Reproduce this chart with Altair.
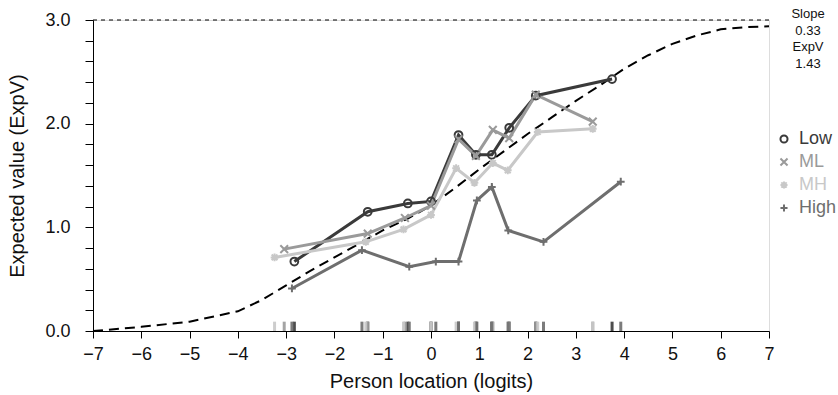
import altair as alt
import pandas as pd

# ---- data ----
groups = ["Low", "ML", "MH", "High"]
colors = ["#3a3a3a", "#9a9a9a", "#c8c8c8", "#6e6e6e"]

low_x = [-2.83, -1.31, -0.48, 0.00, 0.57, 0.93, 1.26, 1.62, 2.17, 3.75]
low_y = [0.67, 1.15, 1.23, 1.25, 1.89, 1.70, 1.70, 1.96, 2.27, 2.43]

ml_x = [-3.04, -1.31, -0.54, 0.00, 0.57, 0.93, 1.28, 1.62, 2.17, 3.35]
ml_y = [0.79, 0.94, 1.09, 1.21, 1.85, 1.69, 1.94, 1.86, 2.28, 2.02]

mh_x = [-3.24, -1.35, -0.57, 0.00, 0.52, 0.90, 1.28, 1.59, 2.21, 3.35]
mh_y = [0.71, 0.86, 0.98, 1.12, 1.57, 1.43, 1.62, 1.55, 1.92, 1.95]

high_x = [-2.88, -1.43, -0.45, 0.10, 0.57, 0.95, 1.26, 1.60, 2.33, 3.93]
high_y = [0.41, 0.78, 0.62, 0.67, 0.67, 1.26, 1.39, 0.97, 0.86, 1.44]

curve_x = [-7, -6, -5, -4, -3.5, -3, -2.5, -2, -1.5, -1, -0.5, 0, 0.5, 1, 1.5,
           2, 2.5, 3, 3.5, 4, 4.5, 5, 5.5, 6, 6.5, 7]
curve_y = [0.00, 0.04, 0.09, 0.19, 0.30, 0.44, 0.58, 0.71, 0.84, 0.97, 1.08,
           1.21, 1.38, 1.56, 1.73, 1.90, 2.06, 2.22, 2.37, 2.53, 2.66, 2.77,
           2.85, 2.91, 2.93, 2.94]

max_score = 3.0
rug_top = 0.09
x_ticks = [-7, -6, -5, -4, -3, -2, -1, 0, 1, 2, 3, 4, 5, 6, 7]
y_ticks = [0.0, 0.2, 0.4, 0.6, 0.8, 1.0, 1.2, 1.4, 1.6, 1.8, 2.0, 2.2, 2.4,
           2.6, 2.8, 3.0]
info_text = ["Slope", "0.33", "ExpV", "1.43"]

shapes = [
    "circle",
    "M-1,-1L1,1M-1,1L1,-1",
    "M-1,0L1,0M0,-1L0,1M-0.75,-0.75L0.75,0.75M-0.75,0.75L0.75,-0.75",
    "M-1,0L1,0M0,-1L0,1",
]

# ---- tables ----
rows = []
for g, xs, ys in zip(groups, [low_x, ml_x, mh_x, high_x],
                     [low_y, ml_y, mh_y, high_y]):
    for xv, yv in zip(xs, ys):
        rows.append({"group": g, "x": xv, "y": yv, "y0": 0.0, "y1": rug_top})
df = pd.DataFrame(rows)
curve = pd.DataFrame({"x": curve_x, "y": curve_y})
top = pd.DataFrame({"x": [x_ticks[0]], "x2": [x_ticks[-1]], "y": [max_score]})
info = pd.DataFrame({"t": ["\n".join(info_text)]})

xscale = alt.Scale(domain=[x_ticks[0], x_ticks[-1]], nice=False, zero=False)
yscale = alt.Scale(domain=[0, max_score], nice=False)
cscale = alt.Scale(domain=groups, range=colors)
sscale = alt.Scale(domain=groups, range=shapes)

xax = alt.Axis(values=x_ticks, format="d", title="Person location (logits)",
               grid=False, tickSize=7, labelPadding=7, titlePadding=8,
               labelFontSize=18, titleFontSize=20, titleFontWeight="normal",
               domainColor="#000", tickColor="#000", labelColor="#111",
               titleColor="#111", labelFlush=False, labelOverlap=False)
yax = alt.Axis(values=y_ticks,
               labelExpr="abs(datum.value - round(datum.value)) < 0.001 ? format(datum.value, '.1f') : ''",
               title="Expected value (ExpV)", grid=False, tickSize=8,
               labelPadding=15, titlePadding=17, labelFontSize=18,
               titleFontSize=20, titleFontWeight="normal",
               domainColor="#000", tickColor="#000", labelColor="#111",
               titleColor="#111", labelFlush=False, labelOverlap=False)

label_color_expr = (
    "datum.label == 'Low' ? '#3a3a3a' : datum.label == 'ML' ? '#9a9a9a' : "
    "datum.label == 'MH' ? '#c8c8c8' : '#6e6e6e'"
)
legend = alt.Legend(title=None, orient="none", legendX=682, legendY=110,
                    padding=0, labelFontSize=18, symbolSize=50,
                    symbolStrokeWidth=2, rowPadding=5, labelOffset=6,
                    labelColor={"expr": label_color_expr})


def X(field="x"):
    return alt.X(f"{field}:Q", scale=xscale, axis=xax)


def Y(field="y"):
    return alt.Y(f"{field}:Q", scale=yscale, axis=yax)


curve_layer = alt.Chart(curve).mark_line(
    color="#000", strokeWidth=2, strokeDash=[10, 6]
).encode(x=X(), y=Y())

top_layer = alt.Chart(top).mark_rule(
    color="#000", strokeWidth=1, strokeDash=[4, 4]
).encode(x=X(), x2="x2:Q", y=Y())

rug_layer = alt.Chart(df).mark_rule(strokeWidth=3, opacity=0.9).encode(
    x=X(),
    y=Y("y0"),
    y2="y1:Q",
    color=alt.Color("group:N", scale=cscale, legend=None),
)

line_layer = alt.Chart(df).mark_line(strokeWidth=3).encode(
    x=X(),
    y=Y(),
    color=alt.Color("group:N", scale=cscale, legend=None),
    order="x:Q",
)

point_layer = alt.Chart(df).mark_point(
    filled=False, strokeWidth=2, size=60, opacity=1
).encode(
    x=X(),
    y=Y(),
    color=alt.Color("group:N", scale=cscale, legend=legend),
    shape=alt.Shape("group:N", scale=sscale, legend=legend),
)

info_layer = alt.Chart(info).mark_text(
    align="center", baseline="top", fontSize=13, lineHeight=16.5,
    lineBreak="\n", color="#111"
).encode(text="t:N", x=alt.value(715), y=alt.value(-12))

chart = alt.layer(
    curve_layer, top_layer, rug_layer, line_layer, point_layer, info_layer
).resolve_legend(
    color="independent", shape="independent"
).properties(
    width=676, height=311,
    autosize=alt.AutoSizeParams(type="none"),
    padding={"left": 93, "top": 20, "right": 69, "bottom": 64},
).configure_view(stroke=None).configure_axis(
    labelOverlap=False
).configure(font="Liberation Sans")

chart.save("out.html", embed_options={"renderer": "svg", "actions": False})
